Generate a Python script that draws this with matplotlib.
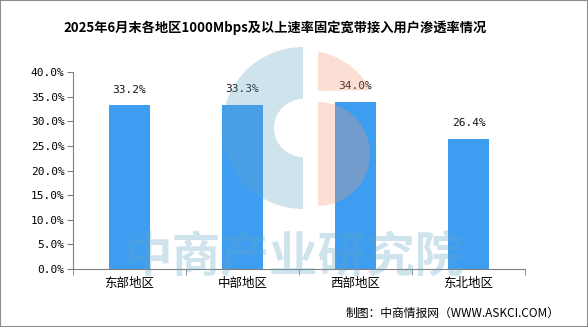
import matplotlib.pyplot as plt
import numpy as np
from matplotlib.patches import Polygon, Rectangle, Wedge
from matplotlib.ticker import FixedLocator, FuncFormatter

plt.rcParams['font.family'] = ['Noto Sans CJK SC', 'DejaVu Sans']

regions = ["东部地区", "中部地区", "西部地区", "东北地区"]
rates = [33.2, 33.3, 34.0, 26.4]
y_ticks = [0, 5, 10, 15, 20, 25, 30, 35, 40]

title = "2025年6月末各地区1000Mbps及以上速率固定宽带接入用户渗透率情况"
source = "制图：中商情报网（WWW.ASKCI.COM）"

fig = plt.figure(figsize=(5.88, 3.27), dpi=100)
fig.patches.append(Rectangle((0, 0), 1, 1, transform=fig.transFigure,
                             fill=False, edgecolor="#8c8c8c", linewidth=1.5))

ax = fig.add_axes([0.124, 0.177, 0.769, 0.603])
ax.set_facecolor("none")
x = np.arange(len(regions))
ax.bar(x, rates, width=0.36, color="#3d9df0", zorder=2)
for xi, v in zip(x, rates):
    ax.text(xi, v + 2.2, f"{v:.1f}%", ha="center", va="bottom", fontsize=8,
            family=["DejaVu Sans Mono"], color="#111111")

ax.set_xlim(-0.5, len(regions) - 0.5)
ax.set_ylim(0, 40)
ax.yaxis.set_major_locator(FixedLocator(y_ticks))
ax.yaxis.set_major_formatter(FuncFormatter(lambda v, p: f"{v:.1f}%"))
ax.set_xticks(x)
ax.set_xticklabels(regions, fontsize=9)
ax.xaxis.set_minor_locator(FixedLocator(np.arange(-0.5, len(regions), 1.0)))
ax.tick_params(axis="x", which="major", length=0, pad=6)
ax.tick_params(axis="x", which="minor", length=4, color="#808080")
ax.tick_params(axis="y", length=4, color="#808080", labelsize=8, pad=2)
for lab in ax.get_yticklabels():
    lab.set_family(["DejaVu Sans Mono"])
for s in ["top", "right"]:
    ax.spines[s].set_visible(False)
for s in ["left", "bottom"]:
    ax.spines[s].set_color("#808080")

# watermark overlay, pixel coordinates (y down)
wm = fig.add_axes([0, 0, 1, 1])
wm.set_xlim(0, 588)
wm.set_ylim(327, 0)
wm.axis("off")
blue = (98 / 255, 165 / 255, 198 / 255)
salmon = (242 / 255, 152 / 255, 118 / 255)
wm.add_patch(Wedge((303, 128), 81, 90, 270, width=52, color=blue, alpha=0.3, lw=0))
# salmon logo: upper arc piece + lower half disc
t = np.linspace(-np.pi / 2, 0, 60)
px = 303 + 78 * np.cos(t)
py = 128 + 78 * np.sin(t)
keep = (px >= 318) & (py <= 91)
pts = np.column_stack([px[keep], py[keep]])
pts = np.vstack([pts, [[318, 91], [318, pts[0, 1]]]])
wm.add_patch(Polygon(pts, closed=True, color=salmon, alpha=0.3, lw=0))
wm.add_patch(Wedge((318, 154), 52, -90, 90, color=salmon, alpha=0.3, lw=0))
wm.text(294, 258, "中商产业研究院", ha="center", va="center", fontsize=35,
        color=blue, alpha=0.3, fontweight="bold")

fig.text(0.468, 0.915, title, ha="center", va="center", fontsize=9.5, fontweight="bold")
fig.text(0.952, 0.042, source, ha="right", va="center", fontsize=8.5)

fig.savefig("out.png", dpi=100)
